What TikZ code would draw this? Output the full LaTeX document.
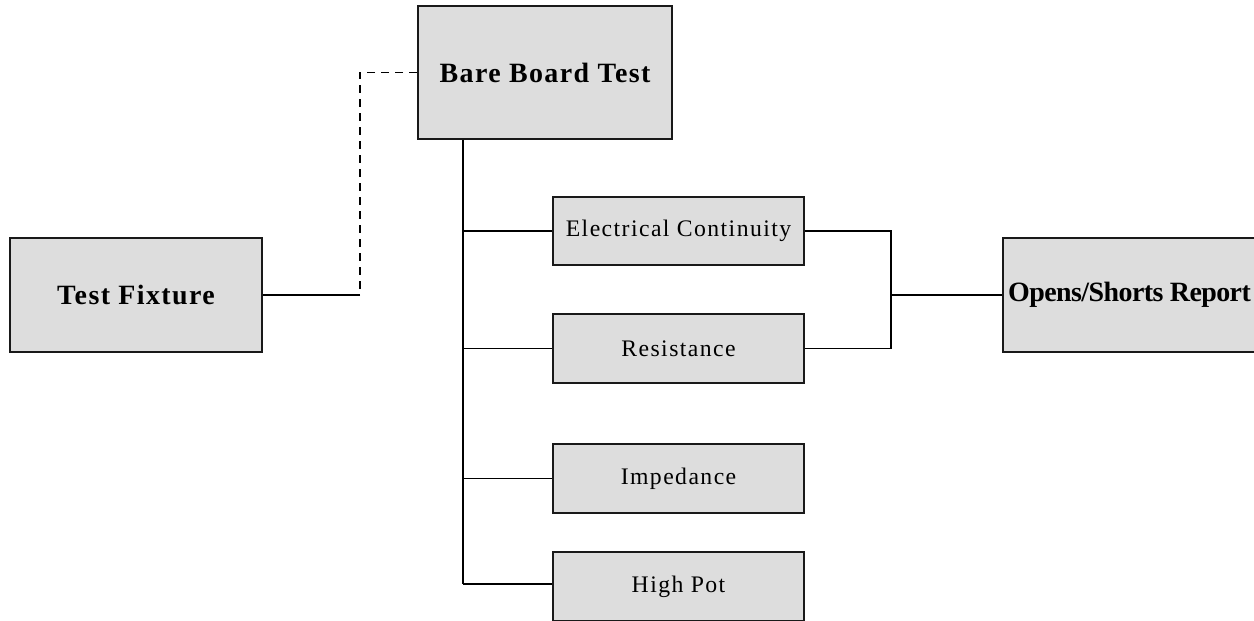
\documentclass[tikz,border=0pt]{standalone}
\usepackage{fontspec}
\setmainfont{Liberation Serif}
\newfontfamily\boxbold[LetterSpace=5]{Liberation Serif Bold}
\newfontfamily\boxboldtight[LetterSpace=-2]{Liberation Serif Bold}
\newfontfamily\boxreg[LetterSpace=6]{Liberation Serif}
\definecolor{boxgray}{HTML}{DDDDDD}
\begin{document}
\begin{tikzpicture}[x=0.02cm, y=-0.02cm,
  box/.style={draw=black!90, fill=boxgray, line width=1.05pt, rectangle, inner sep=0pt},
  bigbox/.style={box, font=\boxbold\fontsize{15.9}{18}\selectfont},
  smallbox/.style={box, minimum width=5.02cm, minimum height=1.37cm, font=\boxreg\fontsize{13.5}{16}\selectfont},
  link/.style={line width=1.05pt, black},
  linkdash/.style={link, dash pattern=on 0.16cm off 0.12cm}]
\useasboundingbox (0,0) rectangle (1254,620);

% main blocks
\node[bigbox, minimum width=5.08cm, minimum height=2.66cm] (bbt) at (545,72.5) {Bare Board Test};
\node[bigbox, minimum width=5.04cm, minimum height=2.28cm] (tf) at (136,295) {Test Fixture};
\node[box, font=\boxboldtight\fontsize{15.9}{18}\selectfont, minimum width=5.06cm, minimum height=2.28cm] (osr) at (1129.5,295) {Opens/Shorts Report};

% test types
\node[smallbox] (ec)  at (678.5,231)   {Electrical Continuity};
\node[smallbox] (res) at (678.5,348.5) {Resistance};
\node[smallbox] (imp) at (678.5,478.5) {Impedance};
\node[smallbox] (hp)  at (678.5,586.5) {High Pot};

% fixture link
\coordinate (jl) at (360,295);
\draw[linkdash] (bbt.west) -| (jl);
\draw[link] (jl) -- (tf.east);

% trunk and branches
\coordinate (trunk) at (463,584);
\draw[link] (bbt.south -| trunk) -- (trunk);
\draw[link] (trunk |- ec.west) -- (ec.west);
\draw[link] (trunk |- res.west) -- (res.west);
\draw[link] (trunk |- imp.west) -- (imp.west);
\draw[link] (trunk) -- (trunk -| hp.west);

% report bracket
\coordinate (jr) at (891,295);
\draw[link] (ec.east) -- (ec.east -| jr) -- (res.east -| jr) -- (res.east);
\draw[link] (jr) -- (osr.west);
\end{tikzpicture}
\end{document}
